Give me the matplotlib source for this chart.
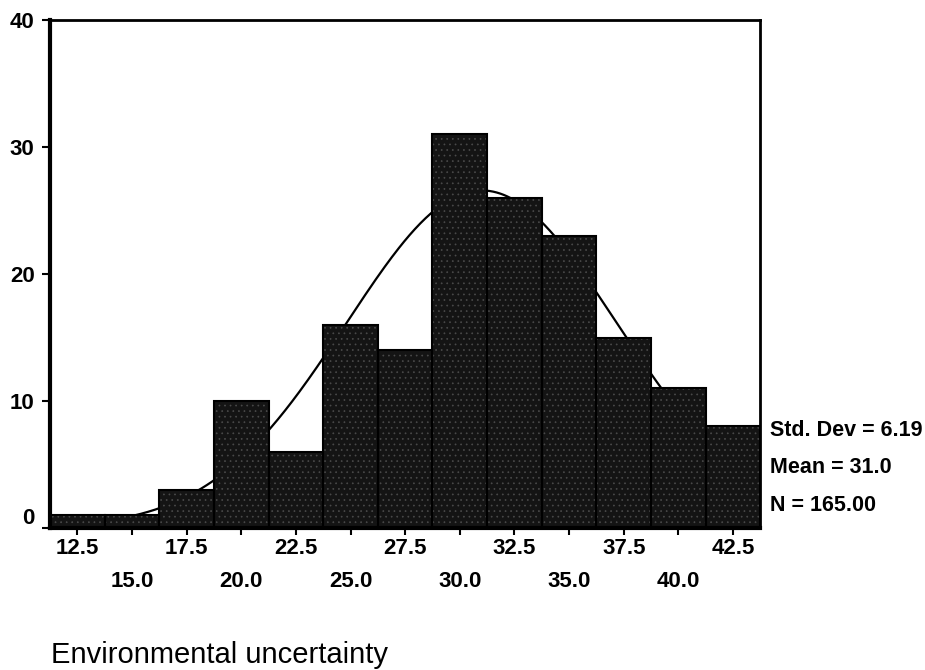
import numpy as np
import matplotlib
matplotlib.use("Agg")
import matplotlib.pyplot as plt
from matplotlib.transforms import ScaledTranslation

plt.rcParams['font.family'] = ['Liberation Sans', 'DejaVu Sans']
plt.rcParams['hatch.linewidth'] = 0.5

# histogram of environmental uncertainty scores
bin_centers = [12.5, 15.0, 17.5, 20.0, 22.5, 25.0, 27.5, 30.0, 32.5, 35.0, 37.5, 40.0, 42.5]
counts = [1, 1, 3, 10, 6, 16, 14, 31, 26, 23, 15, 11, 8]
bin_width = 2.5

std_dev = 6.19
mean = 31.0
n = 165.00

upper_ticks = [12.5, 17.5, 22.5, 27.5, 32.5, 37.5, 42.5]
lower_ticks = [15.0, 20.0, 25.0, 30.0, 35.0, 40.0]
y_ticks = [0, 10, 20, 30, 40]

fig = plt.figure(figsize=(9.25, 6.7), dpi=100)
ax = fig.add_axes([0.054, 0.212, 0.768, 0.758])

# fitted normal curve, drawn behind the bars
xs = np.linspace(11.25, 43.75, 400)
ys = n * bin_width / (std_dev * np.sqrt(2 * np.pi)) * np.exp(-0.5 * ((xs - mean) / std_dev) ** 2)
ax.plot(xs, ys, color='black', linewidth=1.6, zorder=1)

# dark speckled bars
ax.bar(bin_centers, counts, width=bin_width, color='#141414', edgecolor='#4a4a4a',
       hatch='...', linewidth=0, zorder=2)
ax.bar(bin_centers, counts, width=bin_width, facecolor='none', edgecolor='black',
       linewidth=1.5, zorder=3)

ax.set_xlim(11.25, 43.75)
ax.set_ylim(0, 40)

ax.set_xticks(upper_ticks)
ax.set_xticklabels([f"{t:.1f}" for t in upper_ticks])
ax.set_xticks(lower_ticks, minor=True)
ax.set_xticklabels([f"{t:.1f}" for t in lower_ticks], minor=True)
ax.tick_params(axis='x', which='major', direction='out', length=5, width=1.5, pad=2.5)
ax.tick_params(axis='x', which='minor', direction='out', length=5, width=1.5, pad=26)

ax.set_yticks(y_ticks)
ax.set_yticklabels([str(t) for t in y_ticks])
ax.tick_params(axis='y', direction='out', length=6, width=1.5, pad=5)

for lbl in ax.get_xticklabels(which='both') + ax.get_yticklabels():
    lbl.set_fontsize(16)
    lbl.set_fontweight('bold')

# the zero label sits a little above its tick
zero_lbl = ax.get_yticklabels()[0]
zero_lbl.set_transform(zero_lbl.get_transform() + ScaledTranslation(0, 12 / 100, fig.dpi_scale_trans))

for side in ['left', 'bottom']:
    ax.spines[side].set_linewidth(3)
for side in ['top', 'right']:
    ax.spines[side].set_linewidth(2)

# summary statistics beside the plot
stat_kw = dict(fontsize=15.5, fontweight='bold', va='center')
fig.text(0.832, 0.358, f"Std. Dev = {std_dev:.2f}", **stat_kw)
fig.text(0.832, 0.302, f"Mean = {mean:.1f}", **stat_kw)
fig.text(0.832, 0.246, f"N = {n:.2f}", **stat_kw)

fig.text(0.055, 0.022, "Environmental uncertainty", fontsize=21, va='center')

fig.savefig("out.png", dpi=100)
